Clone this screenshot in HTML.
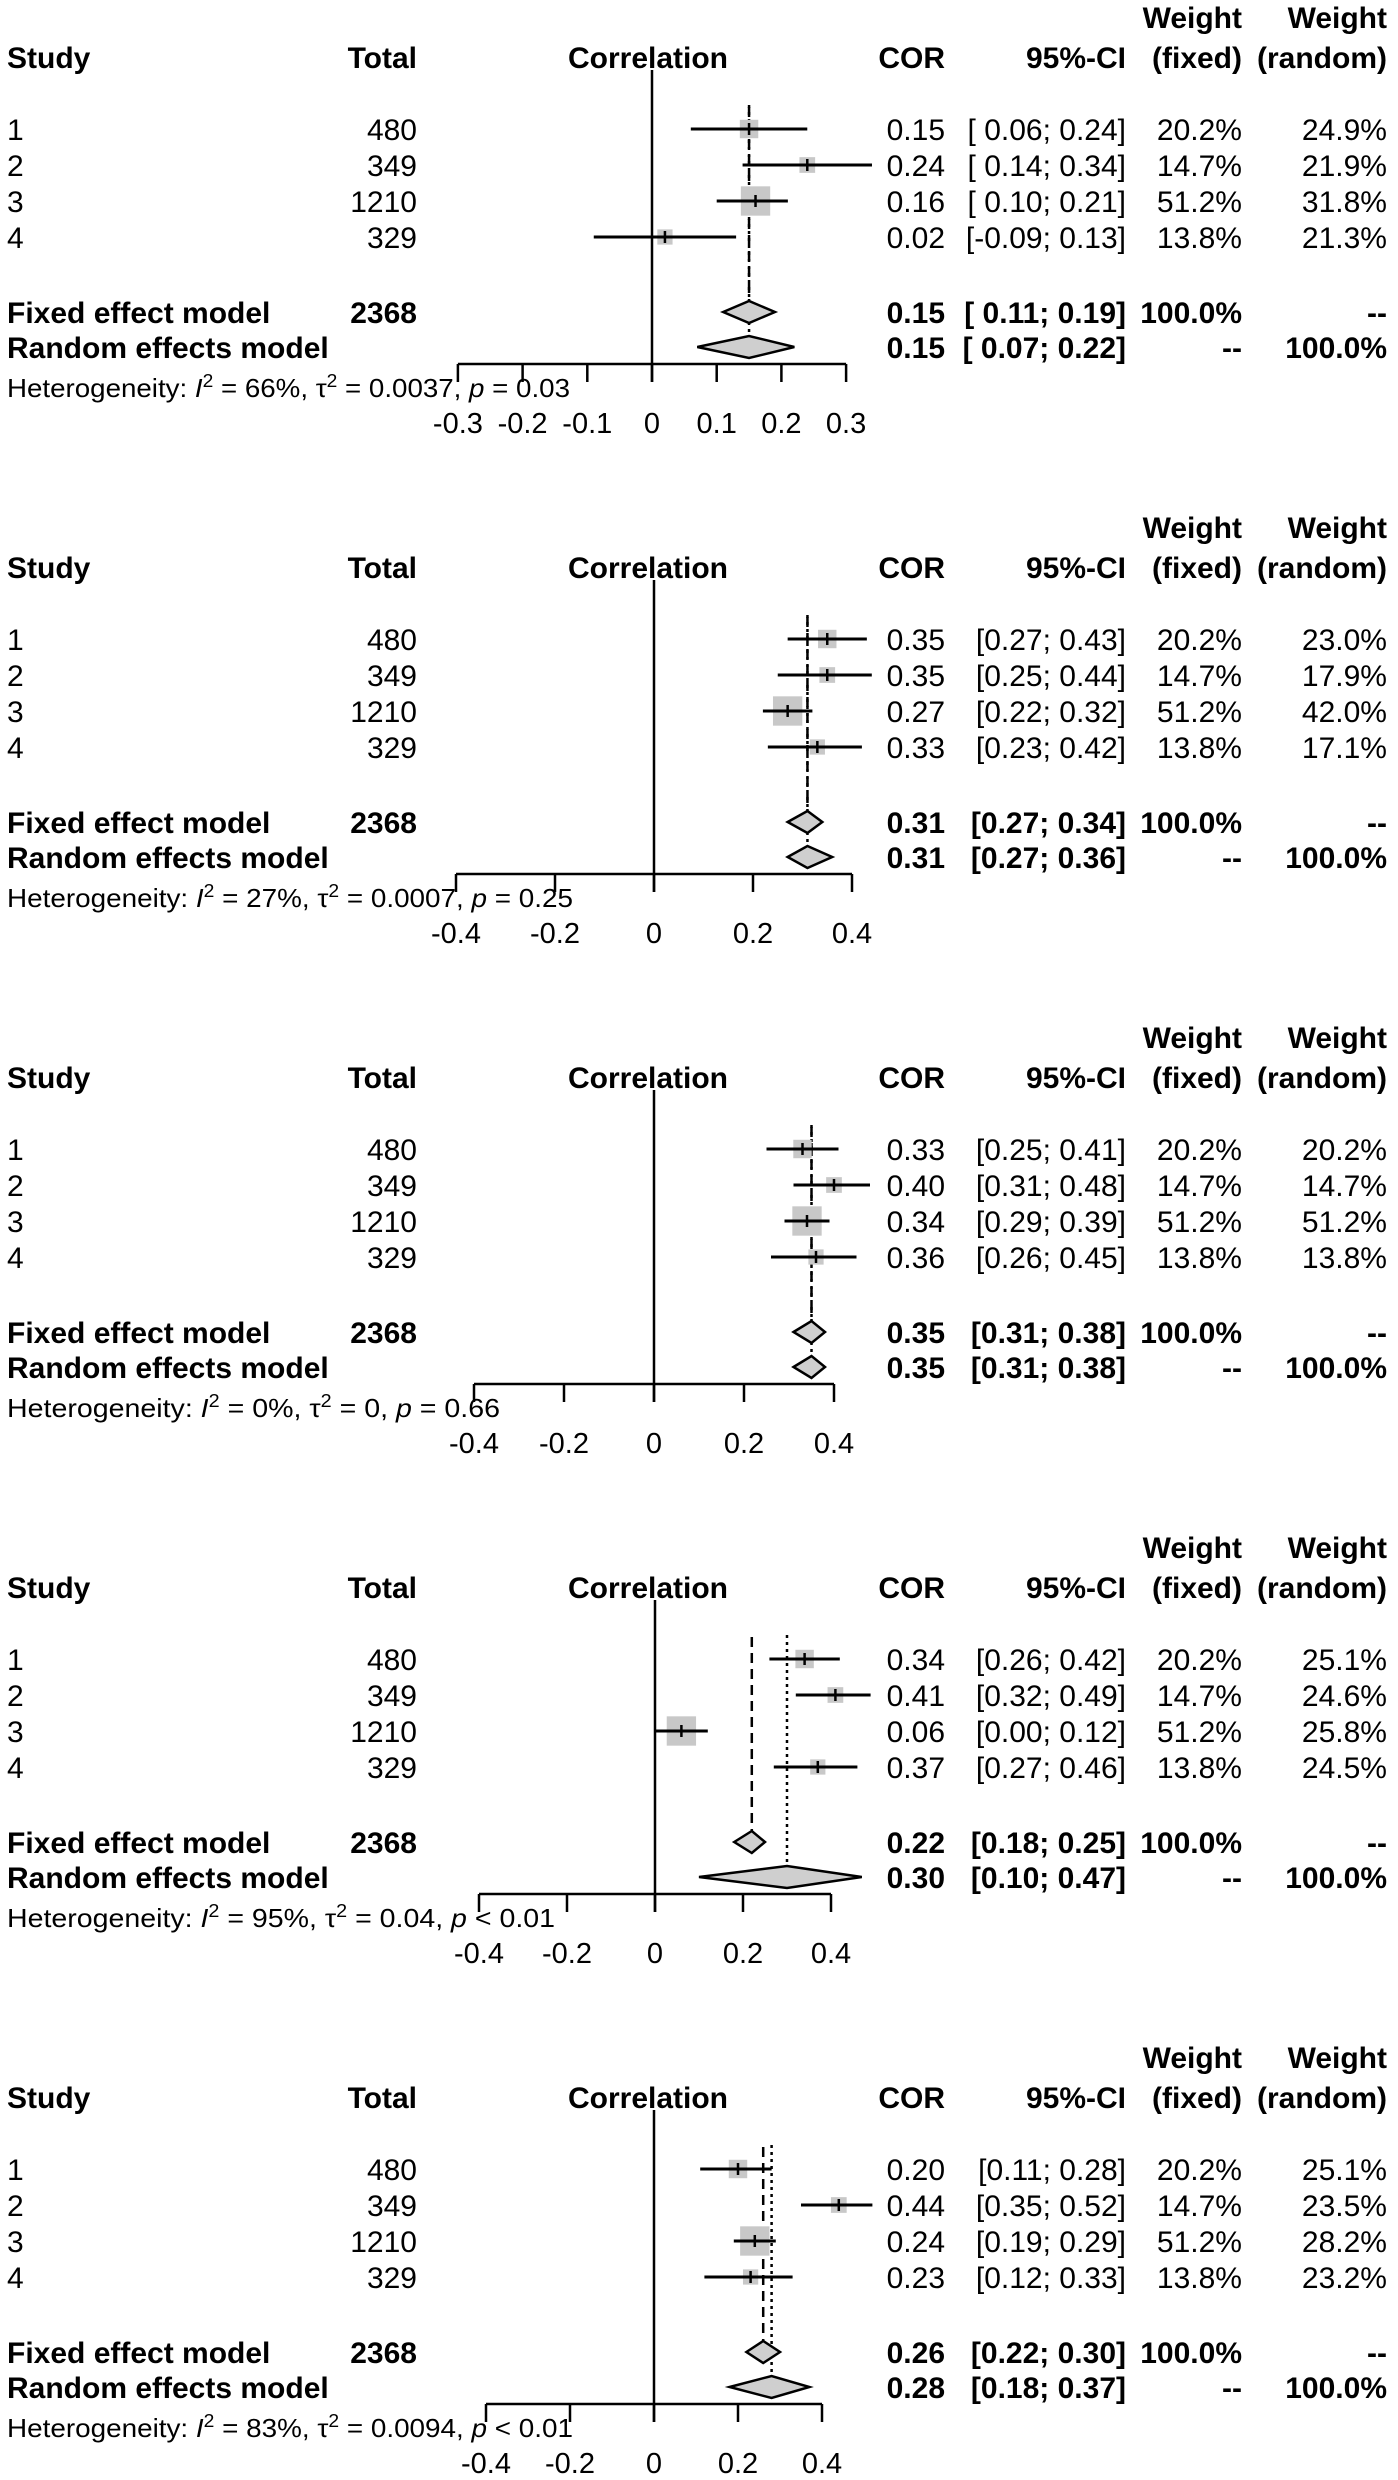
<!DOCTYPE html>
<html><head><meta charset="utf-8"><style>
html,body{margin:0;padding:0;background:#fff;}
svg{display:block;}
text{font-family:"Liberation Sans",Arial,sans-serif;fill:#000;}
</style></head>
<body>
<svg id="chart" width="1398" height="2480" viewBox="0 0 1398 2480" xmlns="http://www.w3.org/2000/svg"></svg>
<script>
// ---- data ----
const panelBases = [0, 510, 1020, 1530, 2040];
const studyLabels = ["1", "2", "3", "4"];
const totals = ["480", "349", "1210", "329"];
const totalPooled = "2368";
const weightsFixed = [20.2, 14.7, 51.2, 13.8];
const est = [[0.15,0.24,0.16,0.02],[0.35,0.35,0.27,0.33],[0.33,0.40,0.34,0.36],[0.34,0.41,0.06,0.37],[0.20,0.44,0.24,0.23]];
const lo  = [[0.06,0.14,0.10,-0.09],[0.27,0.25,0.22,0.23],[0.25,0.31,0.29,0.26],[0.26,0.32,0.00,0.27],[0.11,0.35,0.19,0.12]];
const hi  = [[0.24,0.34,0.21,0.13],[0.43,0.44,0.32,0.42],[0.41,0.48,0.39,0.45],[0.42,0.49,0.12,0.46],[0.28,0.52,0.29,0.33]];
const weightsRandom = [[24.9,21.9,31.8,21.3],[23.0,17.9,42.0,17.1],[20.2,14.7,51.2,13.8],[25.1,24.6,25.8,24.5],[25.1,23.5,28.2,23.2]];
const fixedEst = [0.15,0.31,0.35,0.22,0.26];
const fixedLo  = [0.11,0.27,0.31,0.18,0.22];
const fixedHi  = [0.19,0.34,0.38,0.25,0.30];
const randEst = [0.15,0.31,0.35,0.30,0.28];
const randLo  = [0.07,0.27,0.31,0.10,0.18];
const randHi  = [0.22,0.36,0.38,0.47,0.37];
const i2 = ["66%","27%","0%","95%","83%"];
const tau2 = ["0.0037","0.0007","0","0.04","0.0094"];
const pval = ["= 0.03","= 0.25","= 0.66","< 0.01","< 0.01"];
const ticks = [[-0.3,-0.2,-0.1,0,0.1,0.2,0.3],[-0.4,-0.2,0,0.2,0.4],[-0.4,-0.2,0,0.2,0.4],[-0.4,-0.2,0,0.2,0.4],[-0.4,-0.2,0,0.2,0.4]];
const tickLabels = [["-0.3","-0.2","-0.1","0","0.1","0.2","0.3"],["-0.4","-0.2","0","0.2","0.4"],["-0.4","-0.2","0","0.2","0.4"],["-0.4","-0.2","0","0.2","0.4"],["-0.4","-0.2","0","0.2","0.4"]];
const pxPerUnit = [647, 495, 450, 440, 420];
const zeroX = [652, 654, 654, 655, 654];
const hetLen = [563, 566, 493, 548, 566];

const NS = "http://www.w3.org/2000/svg";
const svg = document.getElementById('chart');
function mk(tag, attrs, parent){const e=document.createElementNS(NS,tag);for(const k in attrs)e.setAttribute(k,attrs[k]);(parent||svg).appendChild(e);return e;}
function txt(g, x, y, s, anchor, bold, size, name){
  const t = mk('text',{x:x,y:y+Math.round(size*0.36),'text-anchor':anchor,'font-size':size,'font-weight':bold?'bold':'normal'},g);
  t.textContent = s;
  
  
  return t;
}
function f2(v){return v.toFixed(2);}
function ci(l,h,spaced){const a=(spaced&&l>=0?' ':'')+f2(l);return '['+a+'; '+f2(h)+']';}

const rowY = [129,165,201,237];
const fixedY = 312, randY = 347, axisY = 364;

for (let p=0;p<5;p++){
  const B = panelBases[p];
  const g = mk('g',{transform:'translate(0,'+B+')'});
  
  
  const X = v => zeroX[p] + v*pxPerUnit[p];
  const spaced = p===0;
  txt(g,7,57,'Study','start',true,30,'study-header');
  txt(g,417,57,'Total','end',true,30,'total-header');
  txt(g,648,57,'Correlation','middle',true,30,'correlation-header');
  txt(g,945,57,'COR','end',true,30,'cor-header');
  txt(g,1126,57,'95%-CI','end',true,30,'ci-header');
  txt(g,1242,17,'Weight','end',true,30,'weight-fixed-header');
  txt(g,1242,57,'(fixed)','end',true,30,'weight-fixed-header-sub');
  txt(g,1387,17,'Weight','end',true,30,'weight-random-header');
  txt(g,1387,57,'(random)','end',true,30,'weight-random-header-sub');
  const zl = mk('line',{x1:X(0),x2:X(0),y1:70,y2:382,stroke:'#000','stroke-width':2.5},g);
  
  
  const fl = mk('line',{x1:X(fixedEst[p]),x2:X(fixedEst[p]),y1:107,y2:fixedY-11,stroke:'#000','stroke-width':2.5,'stroke-dasharray':'10,6'},g);
  
  
  const rl = mk('line',{x1:X(randEst[p]),x2:X(randEst[p]),y1:105,y2:randY-11,stroke:'#000','stroke-width':2.5,'stroke-dasharray':'3,4'},g);
  
  
  for (let i=0;i<4;i++){
    const y = rowY[i];
    txt(g,7,y,studyLabels[i],'start',false,30,'study-label');
    txt(g,417,y,totals[i],'end',false,30,'study-total');
    const s = 4.1*Math.sqrt(weightsFixed[i]);
    const sq = mk('rect',{x:X(est[p][i])-s/2,y:y-s/2,width:s,height:s,fill:'#c8c8c8'},g);
    
    
    const ln = mk('line',{x1:X(lo[p][i]),x2:X(hi[p][i]),y1:y,y2:y,stroke:'#000','stroke-width':3},g);
    
    
    const tk = mk('line',{x1:X(est[p][i]),x2:X(est[p][i]),y1:y-6,y2:y+6,stroke:'#000','stroke-width':2.5},g);
    
    
    txt(g,945,y,f2(est[p][i]),'end',false,30,'study-cor');
    txt(g,1126,y,ci(lo[p][i],hi[p][i],spaced),'end',false,30,'study-ci');
    txt(g,1242,y,weightsFixed[i].toFixed(1)+'%','end',false,30,'study-weight-fixed');
    txt(g,1387,y,weightsRandom[p][i].toFixed(1)+'%','end',false,30,'study-weight-random');
  }
  txt(g,7,fixedY,'Fixed effect model','start',true,30,'fixed-model-label');
  txt(g,417,fixedY,totalPooled,'end',true,30,'fixed-model-total');
  const fd = mk('polygon',{points:[X(fixedLo[p])+','+fixedY, X(fixedEst[p])+','+(fixedY-11), X(fixedHi[p])+','+fixedY, X(fixedEst[p])+','+(fixedY+11)].join(' '),fill:'#cfcfcf',stroke:'#000','stroke-width':2.5},g);
  
  
  txt(g,945,fixedY,f2(fixedEst[p]),'end',true,30,'fixed-cor');
  txt(g,1126,fixedY,ci(fixedLo[p],fixedHi[p],spaced),'end',true,30,'fixed-ci');
  txt(g,1242,fixedY,'100.0%','end',true,30,'fixed-weight-fixed');
  txt(g,1387,fixedY,'--','end',true,30,'fixed-weight-random');
  txt(g,7,randY,'Random effects model','start',true,30,'random-model-label');
  const rd = mk('polygon',{points:[X(randLo[p])+','+randY, X(randEst[p])+','+(randY-11), X(randHi[p])+','+randY, X(randEst[p])+','+(randY+11)].join(' '),fill:'#cfcfcf',stroke:'#000','stroke-width':2.5},g);
  
  
  txt(g,945,randY,f2(randEst[p]),'end',true,30,'random-cor');
  txt(g,1126,randY,ci(randLo[p],randHi[p],spaced),'end',true,30,'random-ci');
  txt(g,1242,randY,'--','end',true,30,'random-weight-fixed');
  txt(g,1387,randY,'100.0%','end',true,30,'random-weight-random');
  const tv = ticks[p];
  const ax = mk('line',{x1:X(tv[0]),x2:X(tv[tv.length-1]),y1:axisY,y2:axisY,stroke:'#000','stroke-width':2.5},g);
  
  
  for (let k=0;k<tv.length;k++){
    const tm = mk('line',{x1:X(tv[k]),x2:X(tv[k]),y1:axisY,y2:382,stroke:'#000','stroke-width':2.5},g);
    
    
    txt(g,X(tv[k]),423,tickLabels[p][k],'middle',false,29,'x-tick-label');
  }
  const h = mk('text',{x:7,y:397,'font-size':26,textLength:hetLen[p],lengthAdjust:'spacingAndGlyphs'},g);
  
  
  h.innerHTML = 'Heterogeneity: <tspan font-style="italic">I</tspan><tspan dy="-10" font-size="18">2</tspan><tspan dy="10"> = '+i2[p]+', τ</tspan><tspan dy="-10" font-size="18">2</tspan><tspan dy="10"> = '+tau2[p]+', </tspan><tspan font-style="italic">p</tspan> '+pval[p].replace('<','&lt;');
}
</script>
</body></html>
